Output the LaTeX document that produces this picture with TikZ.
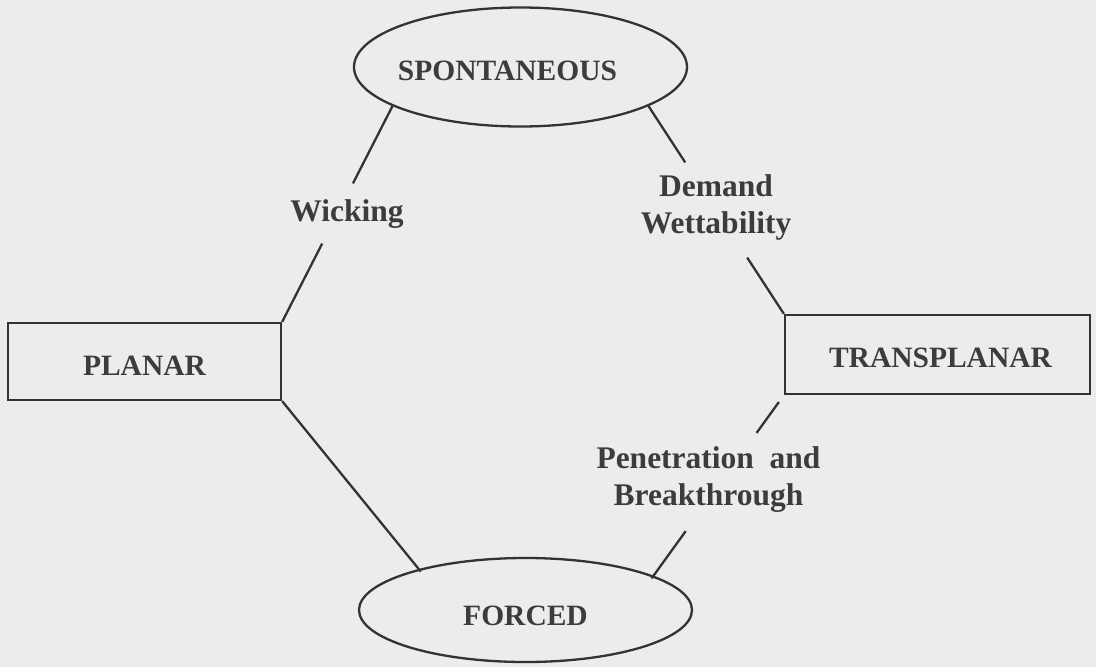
\documentclass[tikz,border=0pt]{standalone}
\usepackage{fontspec}
\setmainfont{Liberation Serif}
\usetikzlibrary{shapes.geometric,calc}
\definecolor{bg}{HTML}{ECECEC}
\definecolor{ink}{HTML}{333333}
\definecolor{txt}{HTML}{3C3C3C}
\begin{document}
\begin{tikzpicture}[x=1pt,y=-1pt,
  every node/.style={text=txt, font=\bfseries\fontsize{29.5}{34}\selectfont},
  oval/.style={draw=ink, line width=2.3pt, ellipse, inner sep=0pt},
  box/.style={draw=ink, line width=2.3pt, rectangle, inner sep=0pt},
  lower/.style={text height=#1, text depth=0pt},
  lbl/.style={font=\bfseries\fontsize{31.5}{37}\selectfont, align=center, inner sep=0pt},
  conn/.style={draw=ink, line width=2.3pt}]
\fill[bg] (0,0) rectangle (1096,667);
\useasboundingbox (0,0) rectangle (1096,667);

\node[oval, lower=26pt, minimum width=333pt, minimum height=119pt] (sp) at (520.5,67) {\hspace*{-26pt}SPONTANEOUS};
\node[oval, lower=30pt, minimum width=333pt, minimum height=104pt] (fo) at (525.5,610) {FORCED};
\node[box, lower=28pt, minimum width=273pt, minimum height=77pt] (pl) at (144.5,361.5) {PLANAR};
\node[box, lower=26pt, minimum width=305pt, minimum height=79pt] (tr) at (937.5,354.5) {\hspace*{6pt}TRANSPLANAR};

\node[lbl] (wk) at (347,214.5) {Wicking};
\node[lbl] (dw) at (716,207) {Demand\\Wettability};
\node[lbl] (pb) at (708.5,479.5) {Penetration\ \ and\\Breakthrough};

% Wicking connector
\draw[conn] (sp.197.8) -- ($(sp.197.8)!0.358!(pl.north east)$);
\draw[conn] ($(sp.197.8)!0.637!(pl.north east)$) -- (pl.north east);
% Demand Wettability connector
\draw[conn] (sp.343.4) -- ($(sp.343.4)!0.271!(tr.north west)$);
\draw[conn] ($(sp.343.4)!0.729!(tr.north west)$) -- (tr.north west);
% Penetration and Breakthrough connector
\draw[conn] ($(tr.south west)!0.038!(fo.15)$) -- ($(tr.south west)!0.209!(fo.15)$);
\draw[conn] ($(tr.south west)!0.753!(fo.15)$) -- ($(tr.south west)!1.015!(fo.15)$);
% Planar to Forced
\draw[conn] (pl.south east) -- ($(pl.south east)!1.015!(fo.159.8)$);
\end{tikzpicture}
\end{document}
